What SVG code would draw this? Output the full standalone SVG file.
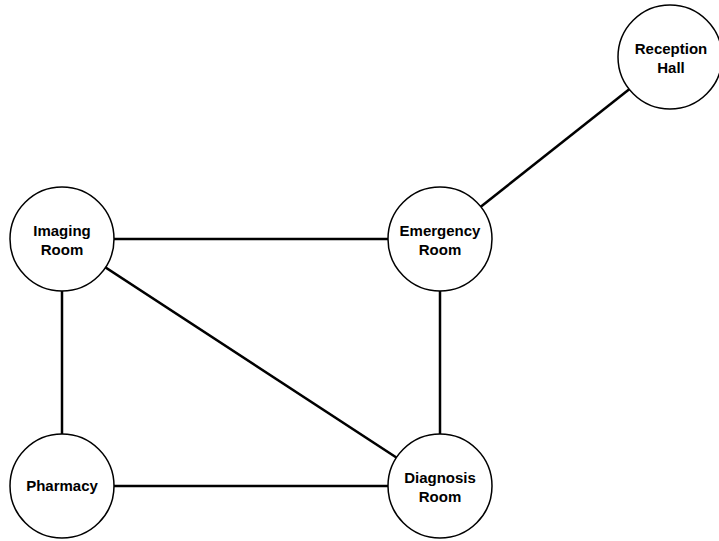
<svg xmlns="http://www.w3.org/2000/svg" width="719" height="541" viewBox="0 0 719 541">
<style>
.edge{stroke:#000;stroke-width:2.5;fill:none}
.node circle{fill:#fff;stroke:#000;stroke-width:1.5}
.node text{font-family:"Liberation Sans",Arial,sans-serif;font-weight:bold;font-size:15px;text-anchor:middle;fill:#000}
</style>
<rect width="719" height="541" fill="#fff"/>
<g id="edges">
<line class="edge" x1="62" y1="239" x2="440" y2="239"/>
<line class="edge" x1="62" y1="239" x2="62" y2="486"/>
<line class="edge" x1="62" y1="239" x2="440" y2="486"/>
<line class="edge" x1="440" y1="239" x2="440" y2="486"/>
<line class="edge" x1="62" y1="486" x2="440" y2="486"/>
<line class="edge" x1="440" y1="239" x2="670" y2="57"/>
</g>
<g id="reception-hall" class="node">
<circle cx="670" cy="57" r="52"/>
<text x="671" y="54">Reception</text>
<text x="671" y="73">Hall</text>
</g>
<g id="imaging-room" class="node">
<circle cx="62" cy="239" r="52"/>
<text x="62" y="236">Imaging</text>
<text x="62" y="255">Room</text>
</g>
<g id="emergency-room" class="node">
<circle cx="440" cy="239" r="52"/>
<text x="440" y="236">Emergency</text>
<text x="440" y="255">Room</text>
</g>
<g id="pharmacy" class="node">
<circle cx="62" cy="486" r="52"/>
<text x="62" y="491">Pharmacy</text>
</g>
<g id="diagnosis-room" class="node">
<circle cx="440" cy="486" r="52"/>
<text x="440" y="483">Diagnosis</text>
<text x="440" y="502">Room</text>
</g>
</svg>
